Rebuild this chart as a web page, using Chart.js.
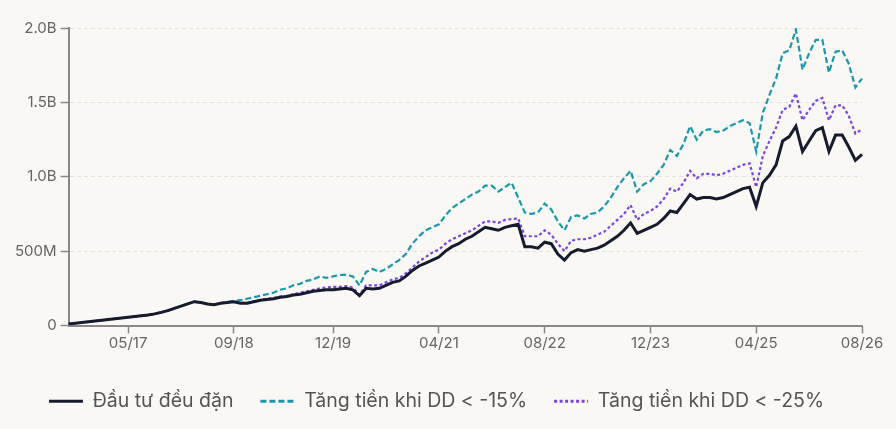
<!DOCTYPE html>
<html>
<head>
<meta charset="utf-8">
<script src="https://cdn.jsdelivr.net/npm/chart.js@4.4.1/dist/chart.umd.min.js"></script>
<style>
  html, body { margin: 0; padding: 0; background: #faf8f5; }
  #wrap { width: 896px; height: 429px; position: relative; }
</style>
</head>
<body>
<div id="wrap"><canvas id="c" width="896" height="429"></canvas></div>
<script>
// ---- DATA (values in millions, one point per month, Aug 2016 .. Aug 2026) ----
const startYear = 2016;
const startMonth = 8;
const seriesNames = ['Đầu tư đều đặn', 'Tăng tiền khi DD < -15%', 'Tăng tiền khi DD < -25%'];
const steadyValues = [
  10,15,20,25,30,35,40,45,50,55,
  60,65,70,78,88,100,115,130,145,160,
  155,145,140,150,155,160,150,150,160,170,
  175,180,190,195,205,210,220,230,235,240,
  240,245,250,240,200,250,245,250,270,290,
  300,330,370,400,420,440,460,500,530,550,
  580,600,630,660,650,640,660,670,680,530,
  530,520,560,550,480,440,490,510,500,510,
  520,540,570,600,640,690,620,640,660,680,
  720,770,760,820,880,850,860,860,850,860,
  880,900,920,930,800,960,1010,1080,1240,1270,
  1340,1170,1240,1310,1330,1170,1280,1280,1200,1110,
  1150
];
const dd15Values = [
  10,15,20,25,30,35,40,45,50,55,
  60,65,70,78,88,100,115,130,145,160,
  155,145,140,150,158,165,170,180,190,200,
  210,220,240,250,270,280,300,310,330,320,
  330,340,340,330,270,360,380,360,380,410,
  440,480,550,600,640,660,680,740,790,820,
  850,880,900,940,940,900,930,960,860,760,
  750,760,820,780,700,640,730,740,720,750,
  760,800,860,930,990,1040,900,950,970,1020,
  1080,1180,1140,1220,1340,1250,1310,1320,1300,1310,
  1340,1360,1380,1360,1170,1430,1550,1660,1830,1850,
  1990,1720,1830,1920,1920,1700,1840,1850,1760,1600,
  1660
];
const dd25Values = [
  10,15,20,25,30,35,40,45,50,55,
  60,65,70,78,88,100,115,130,145,160,
  155,145,140,150,155,162,152,152,162,172,
  180,185,195,200,210,220,230,240,250,255,
  260,260,265,255,205,270,270,270,290,310,
  320,350,390,430,460,490,510,550,580,600,
  620,640,670,700,700,690,710,715,720,600,
  600,600,640,610,550,500,570,580,580,590,
  610,630,670,710,750,810,710,750,770,800,
  850,920,900,960,1040,990,1020,1020,1010,1020,
  1040,1060,1080,1090,930,1140,1240,1330,1450,1470,
  1560,1380,1450,1510,1530,1380,1480,1480,1410,1290,
  1320
];
const xTickLabels = ['05/17','09/18','12/19','04/21','08/22','12/23','04/25','08/26'];
const yTickLabels = ['0','500M','1.0B','1.5B','2.0B'];
const yStep = 500e6;
const yMax = 2000e6;

// ---- categories (MM/YY) ----
const categories = [];
for (let i = 0; i < steadyValues.length; i++) {
  const mm = ((startMonth - 1 + i) % 12) + 1;
  const yy = startYear + Math.floor((startMonth - 1 + i) / 12);
  categories.push(String(mm).padStart(2, '0') + '/' + String(yy % 100).padStart(2, '0'));
}
const toUnits = arr => arr.map(v => v * 1e6);

const axisColor = '#8a8886';
const tickText = '#666462';
Chart.defaults.font.family = 'Inter, "Noto Sans", sans-serif';

new Chart(document.getElementById('c'), {
  type: 'line',
  data: {
    labels: categories,
    datasets: [
      { label: seriesNames[0], data: toUnits(steadyValues), borderColor: '#161b2e', backgroundColor: '#161b2e',
        borderWidth: 3, pointRadius: 0, tension: 0 },
      { label: seriesNames[1], data: toUnits(dd15Values), borderColor: '#1b97ad', backgroundColor: '#1b97ad',
        borderWidth: 2.2, borderDash: [6, 3], pointRadius: 0, tension: 0 },
      { label: seriesNames[2], data: toUnits(dd25Values), borderColor: '#7a44e0', backgroundColor: '#7a44e0',
        borderWidth: 2.2, borderDash: [3, 2.5], pointRadius: 0, tension: 0 }
    ]
  },
  options: {
    responsive: false,
    animation: false,
    layout: { padding: { left: 11, right: 34, top: 28, bottom: 8 } },
    plugins: {
      tooltip: { enabled: false },
      legend: {
        position: 'bottom',
        align: 'center',
        labels: {
          usePointStyle: true,
          pointStyle: 'line',
          pointStyleWidth: 34,
          boxHeight: 19,
          color: '#555452',
          font: { size: 19.5 },
          padding: 27,
          generateLabels: function(chart) {
            const items = Chart.defaults.plugins.legend.labels.generateLabels(chart);
            return items.map(it => {
              const ds = chart.data.datasets[it.datasetIndex];
              return Object.assign(it, { lineDash: ds.borderDash || [], lineWidth: 3, strokeStyle: ds.borderColor, pointStyle: 'line' });
            });
          }
        }
      }
    },
    scales: {
      x: {
        type: 'category',
        offset: false,
        border: { display: true, color: axisColor, width: 2 },
        grid: { display: true, drawOnChartArea: false, drawTicks: true, tickLength: 8, tickColor: axisColor, tickWidth: 1.5 },
        afterFit: function(scale) { scale.height += 11; },
        ticks: {
          autoSkip: false,
          maxRotation: 0,
          color: tickText,
          font: { size: 15 },
          padding: 1,
          callback: function(value, index) {
            const lab = categories[index];
            return xTickLabels.includes(lab) ? lab : null;
          }
        }
      },
      y: {
        min: 0,
        max: yMax,
        border: { display: true, color: axisColor, width: 2, dash: [4, 3] },
        grid: { color: '#e4e1dd', lineWidth: 1, drawTicks: true, tickLength: 8,
                tickColor: axisColor, tickWidth: 1.5, tickBorderDash: [] },
        ticks: {
          stepSize: yStep,
          color: tickText,
          font: { size: 15 },
          padding: 4,
          callback: function(value) {
            return yTickLabels[Math.round(value / yStep)];
          }
        }
      }
    }
  }
});
</script>
</body>
</html>
